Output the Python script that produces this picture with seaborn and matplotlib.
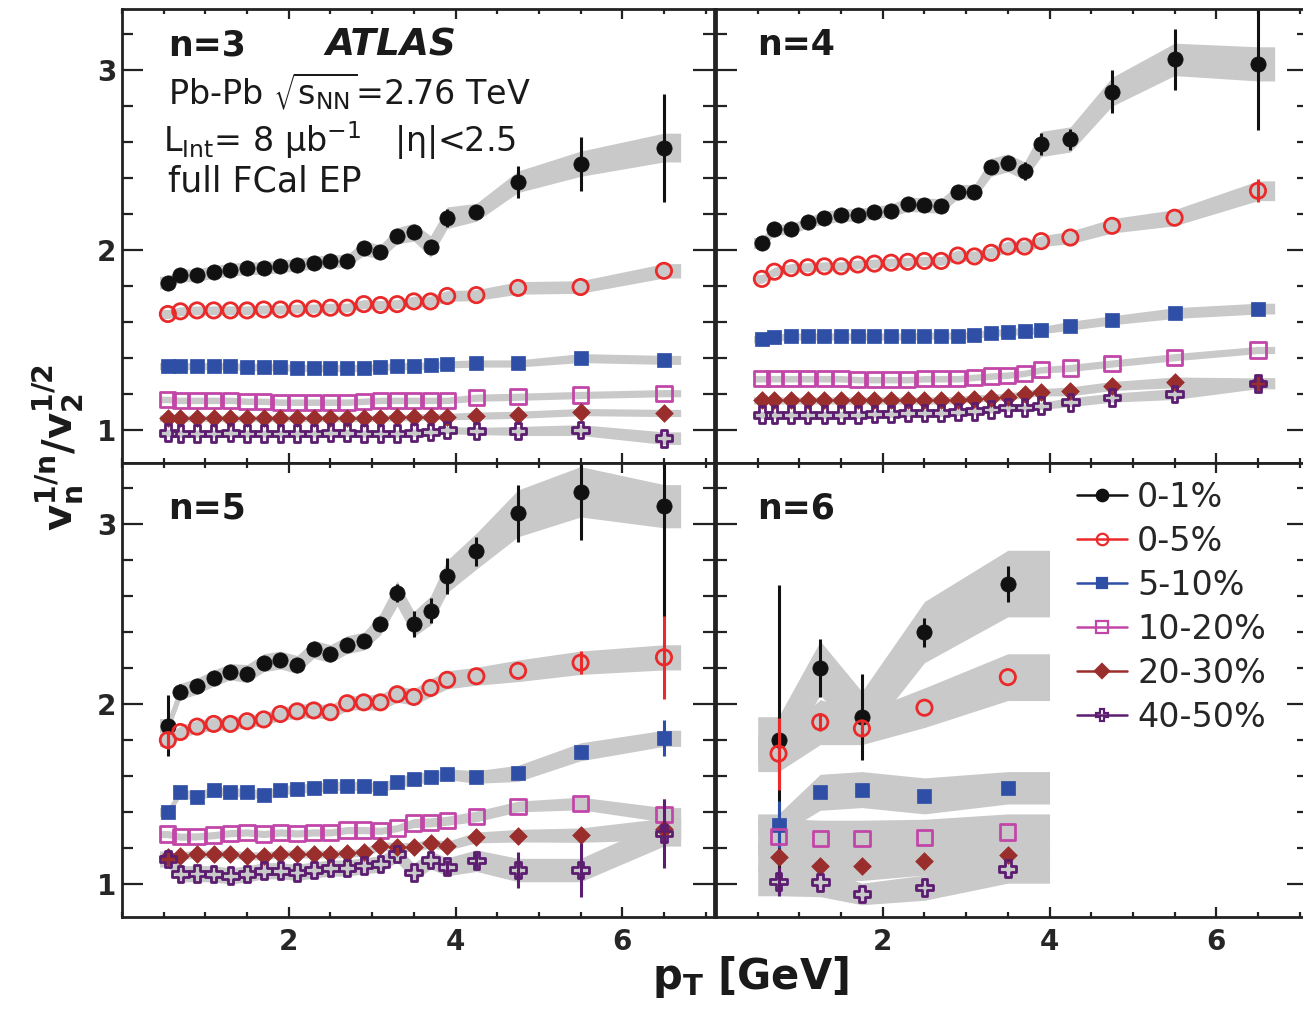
import matplotlib
matplotlib.use("Agg")
import matplotlib.pyplot as plt
from matplotlib.lines import Line2D
from matplotlib.ticker import FixedLocator, MultipleLocator
import seaborn as sns

# ---------------------------------------------------------------- data
# transverse-momentum bin positions (GeV)
pt = [0.55, 0.7, 0.9, 1.1, 1.3, 1.5, 1.7, 1.9, 2.1, 2.3, 2.5, 2.7, 2.9,
      3.1, 3.3, 3.5, 3.7, 3.9, 4.25, 4.75, 5.5, 6.5]
pt_n6 = [0.75, 1.25, 1.75, 2.5, 3.5]
# horizontal extent of the systematic bands
band_edges = (0.45, 6.7)
band_edges_n6 = (0.5, 4.0)

centralities = ["0-1%", "0-5%", "5-10%", "10-20%", "20-30%", "40-50%"]
panel_labels = ["n=3", "n=4", "n=5", "n=6"]

# ---- n = 3
n3_c0_1 = [1.82, 1.86, 1.86, 1.88, 1.89, 1.90, 1.90, 1.91, 1.92, 1.93, 1.94, 1.94, 2.01, 1.99, 2.08, 2.10, 2.02, 2.18, 2.21, 2.38, 2.48, 2.57]
n3_c0_1_stat = [0.01, 0.01, 0.01, 0.01, 0.01, 0.01, 0.01, 0.01, 0.01, 0.01, 0.01, 0.01, 0.015, 0.015, 0.02, 0.02, 0.025, 0.05, 0.035, 0.09, 0.15, 0.30]
n3_c0_1_sys = [0.035, 0.035, 0.035, 0.035, 0.035, 0.035, 0.035, 0.035, 0.035, 0.035, 0.035, 0.035, 0.04, 0.04, 0.045, 0.05, 0.06, 0.06, 0.05, 0.06, 0.07, 0.08]
n3_c0_5 = [1.645, 1.66, 1.665, 1.665, 1.665, 1.665, 1.67, 1.67, 1.675, 1.675, 1.68, 1.68, 1.70, 1.695, 1.70, 1.715, 1.715, 1.745, 1.75, 1.79, 1.795, 1.885]
n3_c0_5_stat = [0.01, 0.01, 0.01, 0.01, 0.01, 0.01, 0.01, 0.01, 0.01, 0.01, 0.01, 0.01, 0.01, 0.01, 0.01, 0.01, 0.01, 0.01, 0.01, 0.015, 0.02, 0.02]
n3_c0_5_sys = [0.025, 0.025, 0.025, 0.025, 0.025, 0.025, 0.025, 0.025, 0.025, 0.025, 0.025, 0.025, 0.025, 0.025, 0.025, 0.03, 0.03, 0.03, 0.03, 0.035, 0.035, 0.04]
n3_c5_10 = [1.355, 1.355, 1.355, 1.355, 1.355, 1.35, 1.35, 1.35, 1.345, 1.345, 1.345, 1.345, 1.345, 1.35, 1.355, 1.355, 1.36, 1.365, 1.37, 1.37, 1.40, 1.39]
n3_c5_10_stat = [0.005, 0.005, 0.005, 0.005, 0.005, 0.005, 0.005, 0.005, 0.005, 0.005, 0.005, 0.005, 0.005, 0.005, 0.005, 0.005, 0.005, 0.005, 0.005, 0.01, 0.01, 0.01]
n3_c5_10_sys = [0.02, 0.02, 0.02, 0.02, 0.02, 0.02, 0.02, 0.02, 0.02, 0.02, 0.02, 0.02, 0.02, 0.02, 0.02, 0.02, 0.02, 0.02, 0.02, 0.02, 0.025, 0.025]
n3_c10_20 = [1.17, 1.165, 1.165, 1.165, 1.165, 1.16, 1.16, 1.155, 1.155, 1.155, 1.155, 1.155, 1.16, 1.165, 1.165, 1.165, 1.165, 1.165, 1.18, 1.185, 1.195, 1.205]
n3_c10_20_stat = [0.005, 0.005, 0.005, 0.005, 0.005, 0.005, 0.005, 0.005, 0.005, 0.005, 0.005, 0.005, 0.005, 0.005, 0.005, 0.005, 0.005, 0.005, 0.005, 0.01, 0.01, 0.01]
n3_c10_20_sys = [0.018, 0.018, 0.018, 0.018, 0.018, 0.018, 0.018, 0.018, 0.018, 0.018, 0.018, 0.018, 0.018, 0.018, 0.018, 0.018, 0.018, 0.018, 0.02, 0.02, 0.02, 0.02]
n3_c20_30 = [1.065, 1.065, 1.065, 1.065, 1.065, 1.065, 1.065, 1.065, 1.065, 1.065, 1.065, 1.065, 1.065, 1.065, 1.07, 1.07, 1.075, 1.075, 1.08, 1.085, 1.10, 1.095]
n3_c20_30_stat = [0.005, 0.005, 0.005, 0.005, 0.005, 0.005, 0.005, 0.005, 0.005, 0.005, 0.005, 0.005, 0.005, 0.005, 0.005, 0.005, 0.005, 0.005, 0.01, 0.01, 0.01, 0.01]
n3_c20_30_sys = [0.018, 0.018, 0.018, 0.018, 0.018, 0.018, 0.018, 0.018, 0.018, 0.018, 0.018, 0.018, 0.018, 0.018, 0.018, 0.018, 0.018, 0.018, 0.02, 0.02, 0.02, 0.02]
n3_c40_50 = [0.985, 0.98, 0.98, 0.98, 0.985, 0.98, 0.98, 0.98, 0.98, 0.98, 0.985, 0.985, 0.98, 0.98, 0.98, 0.985, 0.99, 1.0, 0.995, 0.995, 1.0, 0.955]
n3_c40_50_stat = [0.01, 0.01, 0.01, 0.01, 0.01, 0.01, 0.01, 0.01, 0.01, 0.01, 0.01, 0.01, 0.01, 0.01, 0.01, 0.01, 0.01, 0.01, 0.015, 0.02, 0.02, 0.02]
n3_c40_50_sys = [0.02, 0.02, 0.02, 0.02, 0.02, 0.02, 0.02, 0.02, 0.02, 0.02, 0.02, 0.02, 0.02, 0.02, 0.02, 0.02, 0.02, 0.02, 0.02, 0.025, 0.03, 0.035]

# ---- n = 4
n4_c0_1 = [2.04, 2.115, 2.115, 2.155, 2.18, 2.195, 2.195, 2.21, 2.22, 2.255, 2.25, 2.245, 2.325, 2.325, 2.46, 2.485, 2.44, 2.59, 2.615, 2.88, 3.06, 3.035]
n4_c0_1_stat = [0.015, 0.01, 0.01, 0.01, 0.01, 0.01, 0.01, 0.01, 0.01, 0.01, 0.01, 0.01, 0.015, 0.015, 0.02, 0.04, 0.05, 0.06, 0.06, 0.12, 0.17, 0.37]
n4_c0_1_sys = [0.03, 0.03, 0.03, 0.03, 0.035, 0.035, 0.035, 0.035, 0.035, 0.04, 0.04, 0.04, 0.04, 0.04, 0.05, 0.05, 0.05, 0.07, 0.07, 0.08, 0.09, 0.095]
n4_c0_5 = [1.84, 1.88, 1.90, 1.905, 1.91, 1.91, 1.92, 1.925, 1.93, 1.935, 1.94, 1.94, 1.97, 1.965, 1.985, 2.02, 2.02, 2.05, 2.07, 2.135, 2.18, 2.33]
n4_c0_5_stat = [0.01, 0.01, 0.01, 0.01, 0.01, 0.01, 0.01, 0.01, 0.01, 0.01, 0.01, 0.01, 0.01, 0.01, 0.01, 0.01, 0.01, 0.01, 0.015, 0.02, 0.02, 0.063]
n4_c0_5_sys = [0.025, 0.025, 0.025, 0.025, 0.025, 0.025, 0.025, 0.025, 0.025, 0.025, 0.025, 0.025, 0.03, 0.03, 0.03, 0.03, 0.03, 0.03, 0.035, 0.04, 0.045, 0.055]
n4_c5_10 = [1.505, 1.515, 1.52, 1.52, 1.52, 1.52, 1.52, 1.52, 1.52, 1.52, 1.525, 1.525, 1.525, 1.53, 1.54, 1.545, 1.55, 1.555, 1.58, 1.61, 1.65, 1.675]
n4_c5_10_stat = [0.005, 0.005, 0.005, 0.005, 0.005, 0.005, 0.005, 0.005, 0.005, 0.005, 0.005, 0.005, 0.005, 0.005, 0.005, 0.005, 0.005, 0.005, 0.01, 0.01, 0.01, 0.01]
n4_c5_10_sys = [0.02, 0.02, 0.02, 0.02, 0.02, 0.02, 0.02, 0.02, 0.02, 0.02, 0.02, 0.02, 0.02, 0.02, 0.02, 0.02, 0.02, 0.02, 0.025, 0.025, 0.03, 0.03]
n4_c10_20 = [1.285, 1.285, 1.285, 1.285, 1.285, 1.285, 1.28, 1.28, 1.28, 1.28, 1.285, 1.285, 1.285, 1.293, 1.30, 1.305, 1.315, 1.335, 1.345, 1.37, 1.405, 1.445]
n4_c10_20_stat = [0.005, 0.005, 0.005, 0.005, 0.005, 0.005, 0.005, 0.005, 0.005, 0.005, 0.005, 0.005, 0.005, 0.005, 0.005, 0.005, 0.005, 0.005, 0.01, 0.01, 0.01, 0.01]
n4_c10_20_sys = [0.018, 0.018, 0.018, 0.018, 0.018, 0.018, 0.018, 0.018, 0.018, 0.018, 0.018, 0.018, 0.018, 0.018, 0.018, 0.018, 0.018, 0.018, 0.02, 0.02, 0.02, 0.02]
n4_c20_30 = [1.165, 1.165, 1.165, 1.165, 1.165, 1.165, 1.165, 1.165, 1.165, 1.165, 1.165, 1.165, 1.168, 1.175, 1.18, 1.185, 1.20, 1.21, 1.215, 1.245, 1.265, 1.26]
n4_c20_30_stat = [0.005, 0.005, 0.005, 0.005, 0.005, 0.005, 0.005, 0.005, 0.005, 0.005, 0.005, 0.005, 0.005, 0.005, 0.005, 0.005, 0.005, 0.005, 0.01, 0.01, 0.01, 0.01]
n4_c20_30_sys = [0.02, 0.02, 0.02, 0.02, 0.02, 0.02, 0.02, 0.02, 0.02, 0.02, 0.02, 0.02, 0.02, 0.02, 0.02, 0.02, 0.02, 0.02, 0.025, 0.025, 0.03, 0.03]
n4_c40_50 = [1.085, 1.085, 1.085, 1.085, 1.085, 1.085, 1.085, 1.09, 1.09, 1.095, 1.095, 1.095, 1.10, 1.105, 1.115, 1.125, 1.125, 1.135, 1.155, 1.18, 1.20, 1.26]
n4_c40_50_stat = [0.01, 0.01, 0.01, 0.01, 0.01, 0.01, 0.01, 0.01, 0.01, 0.01, 0.01, 0.01, 0.01, 0.01, 0.01, 0.01, 0.01, 0.01, 0.015, 0.015, 0.02, 0.02]
n4_c40_50_sys = [0.02, 0.02, 0.02, 0.02, 0.02, 0.02, 0.02, 0.02, 0.02, 0.02, 0.02, 0.02, 0.02, 0.02, 0.02, 0.02, 0.02, 0.02, 0.025, 0.025, 0.03, 0.03]

# ---- n = 5
n5_c0_1 = [1.88, 2.07, 2.10, 2.145, 2.18, 2.17, 2.23, 2.245, 2.22, 2.305, 2.28, 2.33, 2.35, 2.445, 2.615, 2.445, 2.52, 2.71, 2.85, 3.06, 3.18, 3.10]
n5_c0_1_stat = [0.17, 0.04, 0.03, 0.02, 0.02, 0.02, 0.02, 0.02, 0.02, 0.02, 0.02, 0.02, 0.03, 0.04, 0.05, 0.07, 0.07, 0.10, 0.08, 0.16, 0.27, 0.62]
n5_c0_1_sys = [0.04, 0.045, 0.045, 0.045, 0.045, 0.05, 0.05, 0.05, 0.05, 0.05, 0.05, 0.05, 0.05, 0.06, 0.07, 0.07, 0.08, 0.09, 0.10, 0.13, 0.14, 0.12]
n5_c0_5 = [1.80, 1.845, 1.875, 1.89, 1.89, 1.905, 1.915, 1.945, 1.96, 1.965, 1.955, 2.005, 2.01, 2.01, 2.055, 2.04, 2.09, 2.135, 2.155, 2.185, 2.23, 2.26]
n5_c0_5_stat = [0.05, 0.02, 0.01, 0.01, 0.01, 0.01, 0.01, 0.01, 0.01, 0.01, 0.01, 0.01, 0.01, 0.01, 0.015, 0.015, 0.015, 0.015, 0.02, 0.025, 0.065, 0.23]
n5_c0_5_sys = [0.035, 0.035, 0.035, 0.035, 0.035, 0.035, 0.035, 0.035, 0.04, 0.04, 0.04, 0.04, 0.04, 0.045, 0.045, 0.045, 0.05, 0.05, 0.05, 0.06, 0.065, 0.07]
n5_c5_10 = [1.40, 1.51, 1.485, 1.52, 1.51, 1.51, 1.495, 1.52, 1.53, 1.535, 1.545, 1.545, 1.545, 1.535, 1.565, 1.585, 1.595, 1.61, 1.595, 1.615, 1.735, 1.81]
n5_c5_10_stat = [0.03, 0.01, 0.01, 0.01, 0.01, 0.01, 0.01, 0.01, 0.01, 0.01, 0.01, 0.01, 0.01, 0.01, 0.01, 0.01, 0.01, 0.01, 0.015, 0.015, 0.04, 0.10]
n5_c5_10_sys = [0.025, 0.025, 0.025, 0.025, 0.025, 0.025, 0.025, 0.025, 0.025, 0.025, 0.025, 0.025, 0.025, 0.025, 0.03, 0.03, 0.03, 0.03, 0.035, 0.045, 0.05, 0.045]
n5_c10_20 = [1.278, 1.263, 1.265, 1.272, 1.283, 1.287, 1.278, 1.287, 1.281, 1.287, 1.287, 1.30, 1.30, 1.296, 1.311, 1.339, 1.343, 1.352, 1.376, 1.431, 1.448, 1.385]
n5_c10_20_stat = [0.01, 0.01, 0.01, 0.01, 0.01, 0.01, 0.01, 0.01, 0.01, 0.01, 0.01, 0.01, 0.01, 0.01, 0.01, 0.01, 0.01, 0.01, 0.015, 0.015, 0.02, 0.09]
n5_c10_20_sys = [0.02, 0.02, 0.02, 0.02, 0.02, 0.02, 0.02, 0.02, 0.02, 0.02, 0.02, 0.02, 0.02, 0.02, 0.02, 0.025, 0.025, 0.025, 0.03, 0.03, 0.035, 0.04]
n5_c20_30 = [1.148, 1.157, 1.167, 1.167, 1.167, 1.157, 1.157, 1.167, 1.167, 1.167, 1.167, 1.17, 1.176, 1.213, 1.204, 1.207, 1.226, 1.213, 1.259, 1.269, 1.272, 1.306]
n5_c20_30_stat = [0.01, 0.01, 0.01, 0.01, 0.01, 0.01, 0.01, 0.01, 0.01, 0.01, 0.01, 0.01, 0.01, 0.01, 0.01, 0.01, 0.01, 0.01, 0.015, 0.015, 0.02, 0.05]
n5_c20_30_sys = [0.022, 0.022, 0.022, 0.022, 0.022, 0.022, 0.022, 0.022, 0.022, 0.022, 0.022, 0.022, 0.022, 0.025, 0.025, 0.025, 0.025, 0.025, 0.03, 0.035, 0.04, 0.06]
n5_c40_50 = [1.139, 1.056, 1.059, 1.056, 1.046, 1.056, 1.074, 1.074, 1.065, 1.078, 1.089, 1.089, 1.102, 1.111, 1.167, 1.065, 1.133, 1.096, 1.13, 1.078, 1.078, 1.281]
n5_c40_50_stat = [0.02, 0.02, 0.02, 0.02, 0.02, 0.02, 0.02, 0.02, 0.02, 0.02, 0.02, 0.02, 0.03, 0.03, 0.03, 0.03, 0.03, 0.04, 0.04, 0.10, 0.15, 0.19]
n5_c40_50_sys = [0.045, 0.045, 0.045, 0.045, 0.045, 0.045, 0.045, 0.045, 0.045, 0.045, 0.045, 0.045, 0.045, 0.045, 0.045, 0.05, 0.05, 0.05, 0.06, 0.065, 0.065, 0.07]

# ---- n = 6
n6_c0_1 = [1.80, 2.20, 1.93, 2.40, 2.67]
n6_c0_1_stat = [0.86, 0.16, 0.24, 0.08, 0.10]
n6_c0_1_sys = [0.13, 0.15, 0.14, 0.17, 0.185]
n6_c0_5 = [1.725, 1.90, 1.865, 1.98, 2.15]
n6_c0_5_stat = [0.20, 0.05, 0.04, 0.02, 0.02]
n6_c0_5_sys = [0.10, 0.125, 0.09, 0.11, 0.13]
n6_c5_10 = [1.33, 1.51, 1.525, 1.49, 1.535]
n6_c5_10_stat = [0.13, 0.02, 0.02, 0.02, 0.02]
n6_c5_10_sys = [0.06, 0.10, 0.10, 0.10, 0.09]
n6_c10_20 = [1.265, 1.255, 1.255, 1.26, 1.29]
n6_c10_20_stat = [0.03, 0.01, 0.01, 0.01, 0.02]
n6_c10_20_sys = [0.10, 0.10, 0.10, 0.10, 0.10]
n6_c20_30 = [1.15, 1.10, 1.10, 1.13, 1.16]
n6_c20_30_stat = [0.03, 0.01, 0.01, 0.01, 0.02]
n6_c20_30_sys = [0.08, 0.08, 0.08, 0.08, 0.08]
n6_c40_50 = [1.015, 1.01, 0.945, 0.98, 1.085]
n6_c40_50_stat = [0.08, 0.02, 0.02, 0.03, 0.03]
n6_c40_50_sys = [0.08, 0.08, 0.06, 0.07, 0.08]

panels = [
    (pt, band_edges, [(n3_c0_1, n3_c0_1_stat, n3_c0_1_sys), (n3_c0_5, n3_c0_5_stat, n3_c0_5_sys),
                      (n3_c5_10, n3_c5_10_stat, n3_c5_10_sys), (n3_c10_20, n3_c10_20_stat, n3_c10_20_sys),
                      (n3_c20_30, n3_c20_30_stat, n3_c20_30_sys), (n3_c40_50, n3_c40_50_stat, n3_c40_50_sys)]),
    (pt, band_edges, [(n4_c0_1, n4_c0_1_stat, n4_c0_1_sys), (n4_c0_5, n4_c0_5_stat, n4_c0_5_sys),
                      (n4_c5_10, n4_c5_10_stat, n4_c5_10_sys), (n4_c10_20, n4_c10_20_stat, n4_c10_20_sys),
                      (n4_c20_30, n4_c20_30_stat, n4_c20_30_sys), (n4_c40_50, n4_c40_50_stat, n4_c40_50_sys)]),
    (pt, band_edges, [(n5_c0_1, n5_c0_1_stat, n5_c0_1_sys), (n5_c0_5, n5_c0_5_stat, n5_c0_5_sys),
                      (n5_c5_10, n5_c5_10_stat, n5_c5_10_sys), (n5_c10_20, n5_c10_20_stat, n5_c10_20_sys),
                      (n5_c20_30, n5_c20_30_stat, n5_c20_30_sys), (n5_c40_50, n5_c40_50_stat, n5_c40_50_sys)]),
    (pt_n6, band_edges_n6, [(n6_c0_1, n6_c0_1_stat, n6_c0_1_sys), (n6_c0_5, n6_c0_5_stat, n6_c0_5_sys),
                            (n6_c5_10, n6_c5_10_stat, n6_c5_10_sys), (n6_c10_20, n6_c10_20_stat, n6_c10_20_sys),
                            (n6_c20_30, n6_c20_30_stat, n6_c20_30_sys), (n6_c40_50, n6_c40_50_stat, n6_c40_50_sys)]),
]

# ---------------------------------------------------------------- style
colors = ["#111111", "#ea2a2a", "#2f4fa6", "#c246a8", "#9a2e2c", "#5c1d70"]
markers = ["o", "o", "s", "s", "D", "P"]
filled = [True, False, True, False, True, False]
msizes = [11.0, 11.0, 10.5, 11.0, 9.0, 12.0]
band_color = "#c9c9c9"
# error bars shorter than this stay hidden behind the marker
min_visible_err = 0.03

sns.set_theme(style="ticks")
plt.rcParams["font.family"] = ["DejaVu Sans"]
plt.rcParams["mathtext.fontset"] = "dejavusans"
plt.rcParams["axes.linewidth"] = 2.0

fig = plt.figure(figsize=(13.03, 10.13), dpi=100)
W, H = 1303.0, 1013.0
col_x = [122 / W, 716 / W]
row_y = [1 - 463 / H, 1 - 917 / H]
aw, ah = 592 / W, 454 / H

axes = []
for i in range(4):
    r, c = divmod(i, 2)
    ax = fig.add_axes([col_x[c], row_y[r], aw, ah])
    axes.append(ax)

for i, (ax, (x, edges, series)) in enumerate(zip(axes, panels)):
    # systematic bands, extended to the band edges
    for (y, stat, sys_) in series:
        xb = [edges[0]] + list(x) + [edges[1]]
        yb = [y[0]] + list(y) + [y[-1]]
        sb = [sys_[0]] + list(sys_) + [sys_[-1]]
        lo = [a - b for a, b in zip(yb, sb)]
        hi = [a + b for a, b in zip(yb, sb)]
        ax.fill_between(xb, lo, hi, color=band_color, linewidth=0, zorder=1)
    # statistical error bars and markers
    for k, (y, stat, sys_) in enumerate(series):
        shown = [e if e > min_visible_err else 0.0 for e in stat]
        ax.errorbar(x, y, yerr=shown, fmt="none", ecolor=colors[k],
                    elinewidth=2.2, capsize=0, zorder=2 + 2 * k)
        kws = dict(marker=markers[k], s=msizes[k] ** 2, ax=ax, legend=False,
                   zorder=3 + 2 * k)
        if filled[k]:
            sns.scatterplot(x=x, y=y, color=colors[k], edgecolor=colors[k],
                            linewidth=0.5, **kws)
        else:
            sns.scatterplot(x=x, y=y, color=colors[k], facecolor="none",
                            edgecolor=colors[k], linewidth=2.0, **kws)

    ax.set_xlim(0, 7.1)
    ax.set_ylim(0.817, 3.34)
    ax.xaxis.set_major_locator(FixedLocator([2, 4, 6]))
    ax.xaxis.set_minor_locator(MultipleLocator(0.5))
    ax.yaxis.set_major_locator(FixedLocator([1, 2, 3]))
    ax.yaxis.set_minor_locator(MultipleLocator(0.2))
    ax.tick_params(axis="both", which="both", direction="in", top=True,
                   right=True, width=1.6, color="#222222")
    ax.tick_params(axis="x", which="major", length=7, pad=8)
    ax.tick_params(axis="x", which="minor", length=3.6)
    ax.tick_params(axis="y", which="major", length=15, pad=4)
    ax.tick_params(axis="y", which="minor", length=8)
    for lab in ax.get_xticklabels() + ax.get_yticklabels():
        lab.set_fontsize(20)
        lab.set_fontweight("bold")
    r, c = divmod(i, 2)
    if r == 0:
        ax.tick_params(axis="x", labelbottom=False)
    if c == 1:
        ax.tick_params(axis="y", labelleft=False)
    ax.set_xlabel("")
    ax.set_ylabel("")
    for sp in ax.spines.values():
        sp.set_color("#222222")
        sp.set_linewidth(2.0)
    ty = 0.92 if r == 0 else 0.90
    tx = 0.078 if c == 0 else 0.069
    ax.text(tx, ty, panel_labels[i], transform=ax.transAxes, fontsize=25,
            fontweight="bold", ha="left", va="center", color="#1a1a1a")

# annotations in the n=3 panel
a0 = axes[0]
a0.text(0.343, 0.92, "ATLAS", transform=a0.transAxes, fontsize=27,
        fontweight="bold", fontstyle="italic", ha="left", va="center", color="#1a1a1a")
a0.text(0.078, 0.82, r"Pb-Pb $\sqrt{\mathrm{s}_{\mathrm{NN}}}$=2.76 TeV", transform=a0.transAxes,
        fontsize=24, ha="left", va="center", color="#1a1a1a")
a0.text(0.069, 0.71, r"L$_{\mathrm{Int}}$= 8 μb$^{\mathrm{-1}}$   |η|<2.5",
        transform=a0.transAxes, fontsize=24, ha="left", va="center", color="#1a1a1a")
a0.text(0.078, 0.62, "full FCal EP", transform=a0.transAxes, fontsize=25,
        ha="left", va="center", color="#1a1a1a")

# legend in the n=6 panel
handles = []
for k, lab in enumerate(centralities):
    handles.append(Line2D([0], [0], color=colors[k], marker=markers[k],
                          markersize=msizes[k] * 0.75, linewidth=1.8,
                          markerfacecolor=colors[k] if filled[k] else "none",
                          markeredgecolor=colors[k], markeredgewidth=1.6, label=lab))
axes[3].legend(handles=handles, loc="upper left", bbox_to_anchor=(0.61, 0.96),
               frameon=False, fontsize=24, handlelength=1.5, handletextpad=0.3,
               labelspacing=0.33, borderpad=0, borderaxespad=0)

# axis titles
fig.text(0.576, 0.036, r"$\mathbf{p}_{\mathbf{T}}$ [GeV]", fontsize=30,
         fontweight="bold", ha="center", va="center", color="#1a1a1a")
fig.text(0.045, 0.558, r"$\mathbf{v}_{\mathbf{n}}^{\mathbf{1/n}}\mathbf{/v}_{\mathbf{2}}^{\mathbf{1/2}}$",
         fontsize=29, rotation=90, ha="center", va="center", color="#1a1a1a")

fig.savefig("out.png", dpi=100, facecolor="white")
